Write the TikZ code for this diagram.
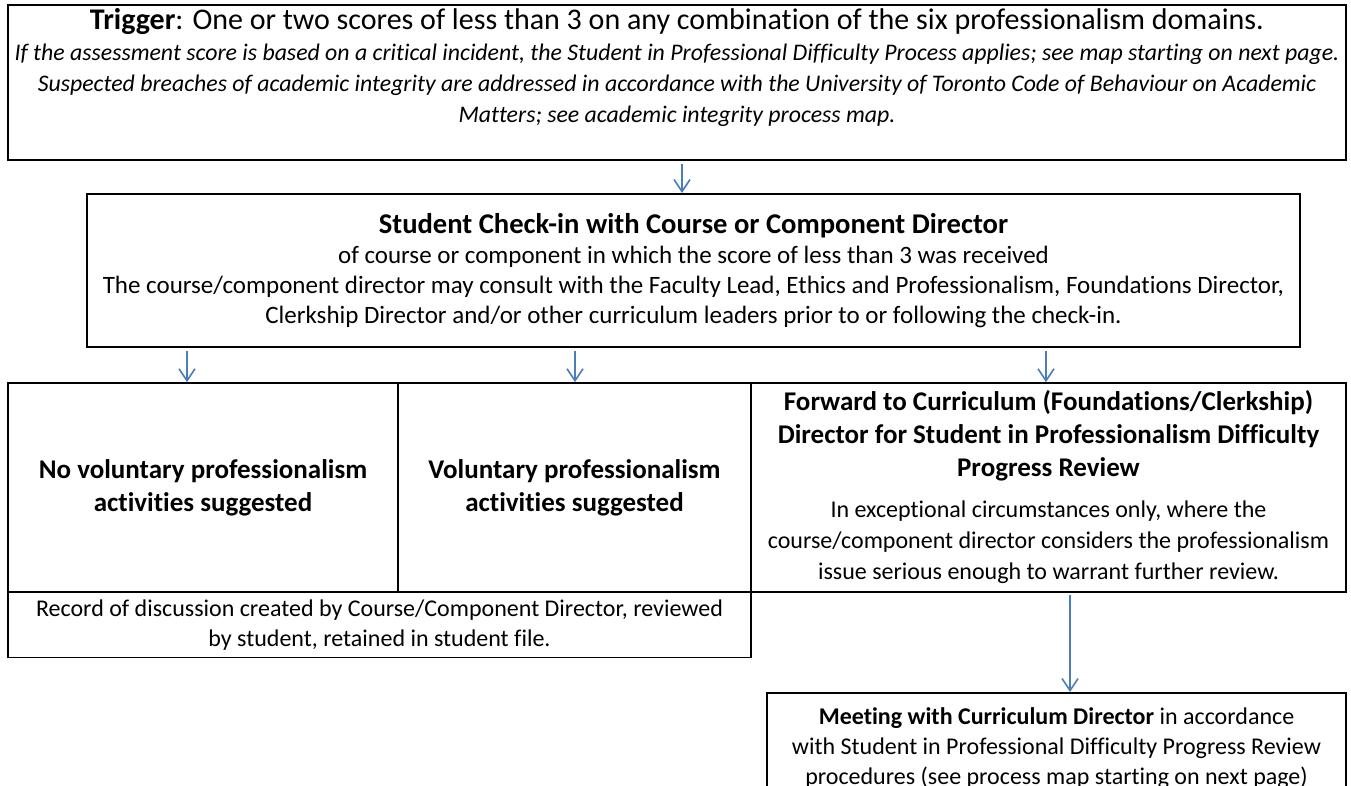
\documentclass[tikz,border=0pt]{standalone}
\usepackage{fontspec}
\setmainfont{Carlito}[Ligatures=NoCommon]
\usetikzlibrary{arrows.meta, positioning, calc}
\definecolor{arrowblue}{RGB}{74,126,187}

\tikzset{
  box/.style={draw, line width=1pt, align=center, inner sep=0pt},
  cell/.style={box, line width=0.8pt},
  flow/.style={draw=arrowblue, line width=0.8pt, -{Straight Barb[length=6pt,width=8pt]}},
}

\begin{document}
\begin{tikzpicture}[x=0.5pt, y=-0.5pt]
        \useasboundingbox (0,0) rectangle (1351,786);

        % trigger and check-in
        \node[box, minimum width=669pt, minimum height=77.5pt, font=\fontsize{11.9}{15.5}\selectfont] (trigger) at (677,82.5)
          {{\fontsize{15}{15.5}\selectfont\textbf{Trigger}: One or two scores of less than 3 on any combination of the six professionalism domains.}\\
           {\itshape If the assessment score is based on a critical incident, the Student in Professional Difficulty Process applies; see map starting on next page.}\\
           {\itshape Suspected breaches of academic integrity are addressed in accordance with the University of Toronto Code of Behaviour on Academic}\\
           {\itshape Matters; see academic integrity process map.\rule[-17.5pt]{0pt}{17.5pt}}};
        \node[box, minimum width=606.5pt, minimum height=76.5pt, font=\fontsize{12.5}{15}\selectfont] (checkin) at (693.5,270.5)
          {{\bfseries\fontsize{14.3}{15}\selectfont Student Check-in with Course or Component Director}\\
           of course or component in which the score of less than 3 was received\\
           The course/component director may consult with the Faculty Lead, Ethics and Professionalism, Foundations Director,\\
           Clerkship Director and/or other curriculum leaders prior to or following the check-in.};

        % outcomes
        \node[cell, minimum width=195pt, minimum height=104.5pt, font=\fontsize{13.5}{16.5}\selectfont] (nosuggest) at (203,487.5)
          {{\bfseries No voluntary professionalism}\\{\bfseries activities suggested}};
        \node[cell, minimum width=176.5pt, minimum height=104.5pt, font=\fontsize{13.5}{16.5}\selectfont] (suggest) at (574.5,487.5)
          {{\bfseries Voluntary professionalism}\\{\bfseries activities suggested}};
        \node[cell, minimum width=297.5pt, minimum height=104.5pt, font=\fontsize{12}{15.5}\selectfont] (forward) at (1048.5,487.5)
          {{\bfseries\fontsize{13.5}{16.5}\selectfont Forward to Curriculum (Foundations/Clerkship)}\\[1pt]
           {\bfseries\fontsize{13.5}{16.5}\selectfont Director for Student in Professionalism Difficulty}\\[1pt]
           {\bfseries\fontsize{13.5}{16.5}\selectfont Progress Review}\\[5pt]
           In exceptional circumstances only, where the\\
           course/component director considers the professionalism\\
           issue serious enough to warrant further review.\rule[-2pt]{0pt}{2pt}};
        \node[cell, minimum width=371.5pt, minimum height=32.5pt, font=\fontsize{12}{15}\selectfont] (record) at (379.5,625)
          {Record of discussion created by Course/Component Director, reviewed\\
           by student, retained in student file.};
        \node[box, minimum width=289.5pt, minimum height=56pt, font=\fontsize{12}{15.2}\selectfont] (meeting) at (1056.5,749)
          {\textbf{Meeting with Curriculum Director} in accordance\\
           with Student in Professional Difficulty Progress Review\\
           procedures (see process map starting on next page)\rule[-3pt]{0pt}{3pt}};

        % connectors
        \draw[flow] ([yshift=-1.5pt]trigger.south -| 682,0) -- (checkin.north -| 682,0);
        \draw[flow] ([yshift=-1.5pt]checkin.south -| 187,0) -- (nosuggest.north -| 187,0);
        \draw[flow] ([yshift=-1.5pt]checkin.south -| 575,0) -- (suggest.north -| 575,0);
        \draw[flow] ([yshift=-1.5pt]checkin.south -| 1046,0) -- (forward.north -| 1046,0);
        \draw[flow] ([yshift=-1pt]forward.south -| 1070,0) -- (meeting.north -| 1070,0);
      \end{tikzpicture}
\end{document}
